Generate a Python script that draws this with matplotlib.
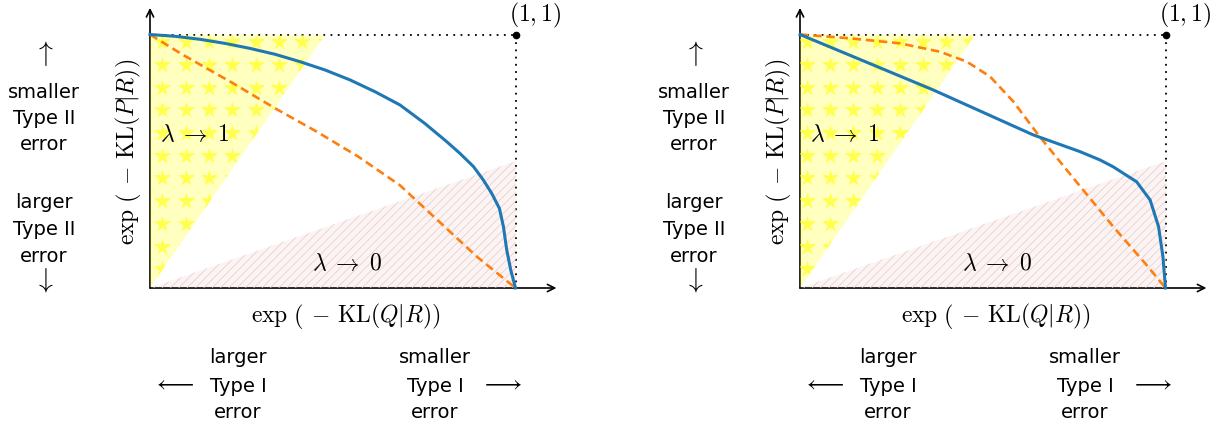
import numpy as np
import matplotlib
matplotlib.use('Agg')
import matplotlib.pyplot as plt
from matplotlib.patches import Polygon

plt.rcParams['mathtext.fontset'] = 'cm'
plt.rcParams['hatch.linewidth'] = 0.45

# curves (x = exp(-KL(Q|R)), y = exp(-KL(P|R)))
left_blue_x = [0, 0.068, 0.137, 0.205, 0.274, 0.342, 0.410, 0.479, 0.547, 0.616, 0.684, 0.752,
               0.812, 0.848, 0.885, 0.912, 0.935, 0.956, 0.967, 0.976, 0.987, 1.0]
left_blue_y = [1, 0.993, 0.981, 0.965, 0.945, 0.922, 0.893, 0.860, 0.821, 0.774, 0.722, 0.649,
               0.577, 0.531, 0.479, 0.426, 0.373, 0.314, 0.242, 0.150, 0.071, 0]
left_orange_x = [0, 0.091, 0.228, 0.342, 0.456, 0.570, 0.684, 0.800, 0.894, 1.0]
left_orange_y = [1, 0.919, 0.807, 0.709, 0.617, 0.518, 0.405, 0.250, 0.124, 0]

right_blue_x = [0, 0.365, 0.638, 0.766, 0.821, 0.857, 0.921, 0.958, 0.981, 0.993, 1.0]
right_blue_y = [1, 0.781, 0.604, 0.538, 0.505, 0.478, 0.419, 0.347, 0.242, 0.123, 0]
right_orange_x = [0, 0.137, 0.274, 0.383, 0.456, 0.520, 0.584, 0.652, 0.730, 0.812, 0.857, 0.948, 1.0]
right_orange_y = [1, 0.985, 0.965, 0.932, 0.893, 0.834, 0.735, 0.604, 0.465, 0.321, 0.242, 0.091, 0]

corner = (1.0, 1.0)
lam1_region = [(0, 0), (0, 1), (0.48, 1)]
lam0_region = [(0, 0), (1, 0), (1, 0.5)]

SANS = 'DejaVu Sans'
fs_sans = 14
fs_math = 17


def draw_panel(ax, bx, by, ox, oy, star_x0):
    ax.set_xlim(0, 1)
    ax.set_ylim(0, 1)
    ax.axis('off')

    # dotted guides to (1,1)
    ax.plot([0, corner[0]], [corner[1], corner[1]], color='k', lw=1.3,
            ls=(0, (1, 3)), clip_on=False, zorder=1)
    ax.plot([corner[0], corner[0]], [corner[1], 0], color='k', lw=1.3,
            ls=(0, (1, 3)), clip_on=False, zorder=1)
    ax.plot(*corner, 'o', color='k', ms=4.5, clip_on=False, zorder=5)

    # axes with arrows
    arrow = dict(arrowstyle='->', lw=1.2, color='k', shrinkA=0, shrinkB=0, mutation_scale=13)
    ax.annotate('', xy=(1.112, 0), xytext=(0, 0), arrowprops=arrow, zorder=1, annotation_clip=False)
    ax.annotate('', xy=(0, 1.105), xytext=(0, 0), arrowprops=arrow, zorder=1, annotation_clip=False)

    # lambda -> 1 region: yellow with stars
    tri1 = Polygon(lam1_region, closed=True, facecolor='#ffff00', alpha=0.25, lw=0, zorder=2)
    ax.add_patch(tri1)
    sx, sy = np.meshgrid(star_x0 + 0.0638 * np.arange(8), 0.969 - 0.0895 * np.arange(12))
    st = ax.scatter(sx.ravel(), sy.ravel(), marker='*', s=150, color='#ffff00', alpha=0.6,
                    linewidths=0, zorder=2)
    st.set_clip_path(tri1)

    # lambda -> 0 region: hatched pink
    ax.add_patch(Polygon(lam0_region, closed=True, facecolor='#f08080', alpha=0.09, lw=0, zorder=2))
    ax.add_patch(Polygon(lam0_region, closed=True, facecolor='none', edgecolor='#d8caca',
                         hatch='////', lw=0, zorder=2))

    ax.plot(ox, oy, color='#ff7f0e', lw=1.9, dashes=(3.2, 1.8), zorder=3, clip_on=False)
    ax.plot(bx, by, color='#1f77b4', lw=2.2, zorder=4, clip_on=False, solid_joinstyle='round')

    ax.text(0.027, 0.607, r'$\lambda \;\to\; 1$', fontsize=fs_math, ha='left', va='center')
    ax.text(0.54, 0.10, r'$\lambda \;\to\; 0$', fontsize=fs_math, ha='center', va='center')
    ax.text(0.982, 1.077, r'$(1,1)$', fontsize=fs_math, ha='left', va='center')

    ax.text(-0.06, 0.536, r'$\exp\,\left(\,-\,\mathrm{KL}(P|R)\right)$', fontsize=fs_math,
            rotation=90, ha='center', va='center')
    ax.text(0.536, -0.11, r'$\exp\,\left(\,-\,\mathrm{KL}(Q|R)\right)$', fontsize=fs_math,
            ha='center', va='center')

    # side notes, Type II
    ax.text(-0.29, 0.925, r'$\uparrow$', fontsize=20, ha='center', va='center')
    for s, yb in zip(['smaller', 'Type II', 'error'], [0.75, 0.647, 0.544]):
        ax.text(-0.29, yb, s, fontsize=fs_sans, family=SANS, ha='center', va='baseline')
    for s, yb in zip(['larger', 'Type II', 'error'], [0.316, 0.209, 0.103]):
        ax.text(-0.29, yb, s, fontsize=fs_sans, family=SANS, ha='center', va='baseline')
    ax.text(-0.29, 0.032, r'$\downarrow$', fontsize=20, ha='center', va='center')

    # side notes, Type I
    for s, yb in zip(['larger', 'Type I', 'error'], [-0.296, -0.409, -0.513]):
        ax.text(0.241, yb, s, fontsize=fs_sans, family=SANS, ha='center', va='baseline')
    for s, yb in zip(['smaller', 'Type I', 'error'], [-0.296, -0.409, -0.513]):
        ax.text(0.78, yb, s, fontsize=fs_sans, family=SANS, ha='center', va='baseline')
    ax.text(0.063, -0.374, r'$\longleftarrow$', fontsize=fs_math, ha='center', va='center')
    ax.text(0.96, -0.374, r'$\longrightarrow$', fontsize=fs_math, ha='center', va='center')


fig = plt.figure(figsize=(12.24, 4.29), dpi=100)
W, H = 1224, 429
ax1 = fig.add_axes([150 / W, (H - 288) / H, 365.5 / W, 253.5 / H])
ax2 = fig.add_axes([800 / W, (H - 288) / H, 365.5 / W, 253.5 / H])

draw_panel(ax1, left_blue_x, left_blue_y, left_orange_x, left_orange_y, 0.034)
draw_panel(ax2, right_blue_x, right_blue_y, right_orange_x, right_orange_y, 0.018)

fig.savefig('out.png', dpi=100)
